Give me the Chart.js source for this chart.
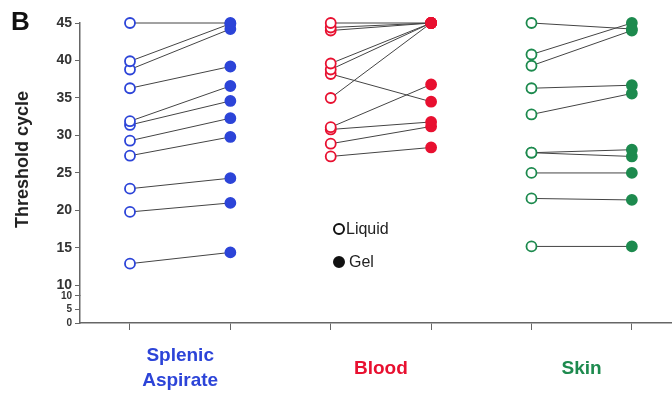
<!DOCTYPE html>
<html>
<head>
<meta charset="utf-8">
<script src="https://cdn.jsdelivr.net/npm/chart.js@4.4.0/dist/chart.umd.min.js"></script>
<style>
  html, body { margin: 0; padding: 0; background: #fff; }
  #wrap { width: 672px; height: 395px; }
</style>
</head>
<body>
<div id="wrap"><canvas id="chart"></canvas></div>
<script>
// groups and their colours
var groupLabels = [["Splenic", "Aspirate"], "Blood", "Skin"];
var groupColors = ["#2c44d8", "#e81030", "#1d8a4e"];
var legendLabels = ["Liquid", "Gel"];

// broken y axis: upper part 10..45, lower part 0..10
var upperTicks = [10, 15, 20, 25, 30, 35, 40, 45];
var lowerTicks = [0, 5, 10];

// paired samples, liquid -> gel (same index = same sample)
var splenicLiquid = [45, 39.9, 38.8, 36.3, 31.9, 31.4, 29.3, 27.3, 22.9, 19.8, 12.9];
var splenicGel    = [45, 44.9, 44.2, 39.2, 36.6, 34.6, 32.3, 29.8, 24.3, 21.0, 14.4];
var bloodLiquid   = [45, 44.4, 44.0, 39.6, 38.8, 38.2, 35.0, 31.1, 30.8, 28.9, 27.2];
var bloodGel      = [45, 45, 45, 45, 45, 34.5, 45, 36.8, 31.8, 31.2, 28.4];
var skinLiquid    = [45, 40.8, 39.3, 36.3, 32.8, 27.7, 27.7, 25.0, 21.6, 15.2];
var skinGel       = [44.2, 45, 44.0, 36.7, 35.6, 28.1, 27.2, 25.0, 21.4, 15.2];

var groups = [
  [splenicLiquid, splenicGel],
  [bloodLiquid, bloodGel],
  [skinLiquid, skinGel]
];

var datasets = [];
groups.forEach(function (g, gi) {
  var col = groupColors[gi];
  for (var i = 0; i < g[0].length; i++) {
    datasets.push({
      label: legendLabels[0] + "/" + legendLabels[1],
      data: [{ x: gi * 2 + 1, y: g[0][i] }, { x: gi * 2 + 2, y: g[1][i] }],
      yAxisID: "y",
      borderColor: "#444",
      borderWidth: 1,
      pointRadius: 5,
      pointBorderWidth: 1.8,
      pointBorderColor: col,
      pointBackgroundColor: ["#ffffff", col],
      clip: false
    });
  }
});

var xTicks = [1, 1.5, 2, 3, 3.5, 4, 5, 5.5, 6];

function isGroupTick(v) { return Math.abs(v % 1 - 0.5) < 0.01; }

var annotPlugin = {
  id: "annot",
  afterDraw: function (chart) {
    var ctx = chart.ctx;
    ctx.save();
    ctx.fillStyle = "#111";
    ctx.textBaseline = "middle";
    ctx.font = "bold 26px 'Liberation Sans', Arial, sans-serif";
    ctx.fillText("B", 11, 23);

    // legend: hollow = Liquid, filled = Gel
    var lx = 339, ly = [229, 262];
    ctx.font = "16px 'Liberation Sans', Arial, sans-serif";
    for (var i = 0; i < 2; i++) {
      ctx.beginPath();
      ctx.arc(lx, ly[i], 5, 0, Math.PI * 2);
      ctx.lineWidth = 2;
      ctx.strokeStyle = "#111";
      ctx.fillStyle = i === 0 ? "#fff" : "#111";
      ctx.fill();
      ctx.stroke();
      ctx.fillStyle = "#222";
      ctx.fillText(legendLabels[i], lx + 7 + i * 3, ly[i] + 1);
    }
    ctx.restore();
  }
};

var tickFont = { family: "'Liberation Sans', Arial, sans-serif", weight: "bold", size: 14 };

new Chart(document.getElementById("chart"), {
  type: "line",
  data: { datasets: datasets },
  options: {
    responsive: true,
    maintainAspectRatio: false,
    animation: false,
    layout: { autoPadding: false, padding: { top: 23, right: 0, left: 0, bottom: 0 } },
    plugins: { legend: { display: false }, tooltip: { enabled: false } },
    scales: {
      x: {
        type: "linear",
        min: 0.502,
        max: 6.4,
        afterBuildTicks: function (s) { s.ticks = xTicks.map(function (v) { return { value: v }; }); },
        afterFit: function (s) { s.height = 72; },
        grid: {
          drawOnChartArea: false,
          tickLength: 7,
          tickColor: function (c) { return c.tick && isGroupTick(c.tick.value) ? "rgba(0,0,0,0)" : "#666"; }
        },
        border: { color: "#666", width: 1.5 },
        ticks: {
          autoSkip: false,
          maxRotation: 0,
          crossAlign: "center",
          padding: 26,
          font: { family: "'Liberation Sans', Arial, sans-serif", weight: "bold", size: 19, lineHeight: 1.32 },
          color: function (c) {
            if (!c.tick) return "#000";
            return groupColors[Math.round((c.tick.value - 1.5) / 2)] || "#000";
          },
          callback: function (v) {
            return isGroupTick(v) ? groupLabels[Math.round((v - 1.5) / 2)] : "";
          }
        }
      },
      yLow: {
        type: "linear",
        position: "left",
        stack: "ct",
        stackWeight: 27,
        min: 0,
        max: 10,
        afterBuildTicks: function (s) { s.ticks = lowerTicks.map(function (v) { return { value: v }; }); },
        afterFit: function (s) { s.width = 80; },
        grid: { drawOnChartArea: false, tickLength: 5, tickColor: "#666" },
        border: { color: "#666", width: 1.5 },
        ticks: { autoSkip: false, font: { family: "'Liberation Sans', Arial, sans-serif", weight: "bold", size: 10 }, color: "#333", padding: 3 }
      },
      y: {
        type: "linear",
        position: "left",
        stack: "ct",
        stackWeight: 272,
        min: 8.6,
        max: 45,
        afterBuildTicks: function (s) { s.ticks = upperTicks.map(function (v) { return { value: v }; }); },
        afterFit: function (s) { s.width = 80; },
        grid: { drawOnChartArea: false, tickLength: 5, tickColor: "#666" },
        border: { color: "#666", width: 1.5 },
        ticks: { autoSkip: false, font: tickFont, color: "#333", padding: 3 },
        title: {
          display: true,
          text: "Threshold cycle",
          color: "#222",
          font: { family: "'Liberation Sans', Arial, sans-serif", weight: "bold", size: 18 },
          padding: { top: 12, bottom: 0 }
        }
      }
    }
  },
  plugins: [annotPlugin]
});
</script>
</body>
</html>
